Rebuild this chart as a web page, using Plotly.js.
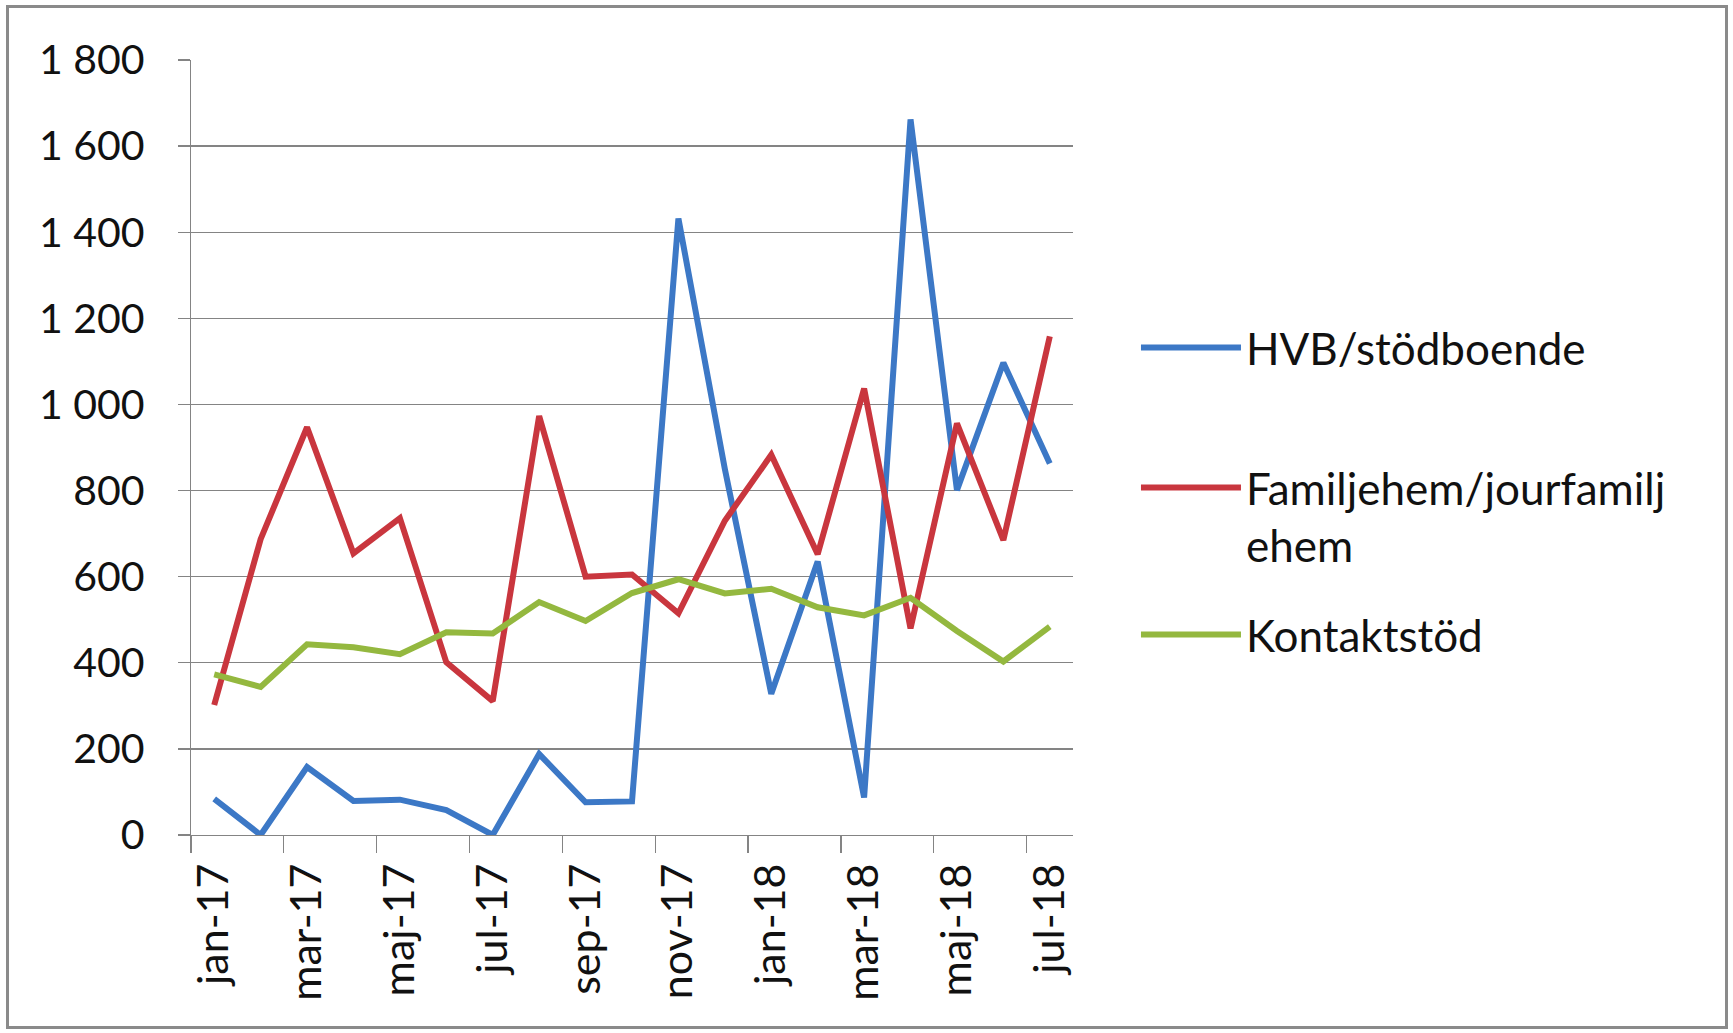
<!DOCTYPE html>
<html><head><meta charset="utf-8">
<script src="https://cdn.plot.ly/plotly-3.0.1.min.js"></script>
<style>
html,body{margin:0;padding:0;background:#fff;}
#chart{position:absolute;left:0;top:0;width:1733px;height:1033px;}
#frame{position:absolute;left:6px;top:5px;width:1722px;height:1024px;box-sizing:border-box;border:3px solid #8a8a8a;pointer-events:none;}
</style></head><body>
<div id="chart"></div><div id="frame"></div>
<script>
const months = ['jan-17','feb-17','mar-17','apr-17','maj-17','jun-17','jul-17','aug-17','sep-17','okt-17','nov-17','dec-17',
                'jan-18','feb-18','mar-18','apr-18','maj-18','jun-18','jul-18'];
const hvb         = [84, 0, 158, 79, 82, 58, 0, 188, 76, 78, 1432, 850, 328, 635, 87, 1662, 801, 1097, 863];
const familjehem  = [302, 687, 947, 654, 736, 401, 311, 973, 600, 605, 515, 730, 883, 652, 1037, 480, 956, 685, 1158];
const kontaktstod = [373, 344, 443, 436, 420, 471, 468, 541, 497, 562, 594, 561, 572, 529, 510, 551, 474, 403, 484];
const seriesNames = ['HVB/stödboende', 'Familjehem/jourfamilj<br>ehem', 'Kontaktstöd'];
const seriesColors = ['#3c78c6', '#c9363e', '#94b83f'];
const tickMonths = months.filter((m, i) => i % 2 === 0);
// tick marks sit on the category boundaries, every second month
const boundaryTicks = tickMonths.map((m, i) => 2 * i - 0.5);
const yTicks = [0, 200, 400, 600, 800, 1000, 1200, 1400, 1600, 1800];

const FONT = 'Lato, "Open Sans", sans-serif';
const gridCol = '#848484';

const seriesData = [hvb, familjehem, kontaktstod];
const legendIds = ['legend', 'legend2', 'legend3'];
const traces = seriesData.map((vals, i) => ({
  type: 'scatter', mode: 'lines',
  x: months, y: vals, name: seriesNames[i],
  line: {color: seriesColors[i], width: 6},
  legend: legendIds[i], hoverinfo: 'x+y+name'
}));
// empty helper trace so the boundary-tick axis is drawn
traces.push({type: 'scatter', mode: 'lines', x: [], y: [], xaxis: 'x2', yaxis: 'y',
             showlegend: false, hoverinfo: 'skip'});

function legendCfg(y, valign) {
  return {
    x: 1.0714, xanchor: 'left', y: y, yanchor: 'middle',
    font: {family: FONT, size: 44, color: '#111'},
    itemwidth: 100, bgcolor: 'rgba(0,0,0,0)', borderwidth: 0,
    valign: valign
  };
}

const layout = {
  width: 1733, height: 1033, autosize: false,
  paper_bgcolor: '#ffffff', plot_bgcolor: '#ffffff',
  margin: {l: 191, r: 660, t: 60, b: 198, pad: 0},
  separators: ', ',
  font: {family: FONT, color: '#111', size: 41},
  showlegend: true,
  xaxis: {
    type: 'category',
    tickmode: 'array', tickvals: tickMonths, ticktext: tickMonths,
    tickangle: -90,
    ticks: '',
    showline: true, linecolor: gridCol, linewidth: 1.3,
    showgrid: false, zeroline: false,
    tickfont: {family: FONT, size: 43, color: '#111'},
    ticklabelstandoff: 10,
    range: [-0.5, 18.5]
  },
  xaxis2: {
    type: 'linear', overlaying: 'x', anchor: 'y', side: 'bottom',
    range: [-0.5, 18.5],
    tickmode: 'array', tickvals: boundaryTicks,
    showticklabels: false,
    ticks: 'outside', ticklen: 17, tickwidth: 1.3, tickcolor: gridCol,
    showline: false, showgrid: false, zeroline: false
  },
  yaxis: {
    range: [0, 1800], tickmode: 'array', tickvals: yTicks,
    separatethousands: true,
    ticks: 'outside', ticklen: 12, tickwidth: 1.3, tickcolor: gridCol,
    showline: true, linecolor: gridCol, linewidth: 1.3,
    showgrid: true, gridcolor: gridCol, gridwidth: 1.3,
    zeroline: false,
    tickfont: {family: FONT, size: 41, color: '#111'},
    ticklabelstandoff: 25
  },
  legend: legendCfg((835 - 348) / 775, 'middle'),
  legend2: legendCfg((835 - 516.5) / 775, 'top'),
  legend3: legendCfg((835 - 635) / 775, 'middle')
};

Plotly.newPlot('chart', traces, layout, {displayModeBar: false, staticPlot: true});
</script>
</body></html>
